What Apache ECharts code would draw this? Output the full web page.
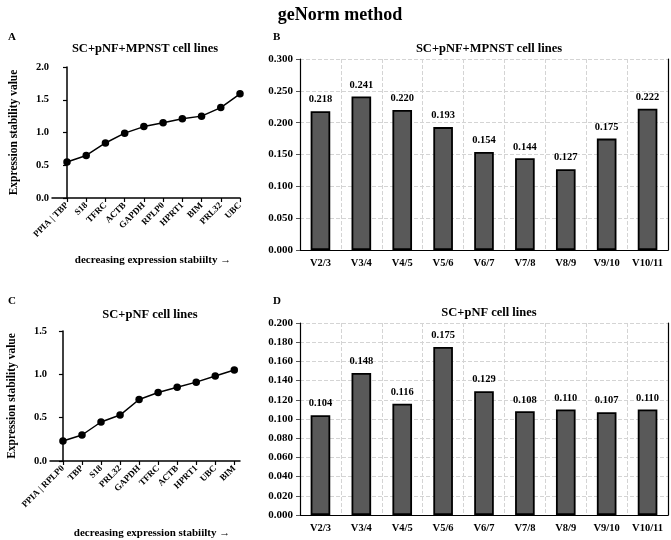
<!DOCTYPE html>
<html>
<head>
<meta charset="utf-8">
<script src="https://cdn.jsdelivr.net/npm/echarts@6/dist/echarts.min.js"></script>
<style>
  html, body { margin: 0; padding: 0; background: #fff; }
  #chart { width: 671px; height: 540px; }
</style>
</head>
<body>
<div id="chart"></div>
<script>
// genes ordered by decreasing expression stability
const genesA = ["PPIA | TBP", "S18", "TFRC", "ACTB", "GAPDH", "RPLP0", "HPRT1", "BIM", "PRL32", "UBC"];
const stabilityA = [0.55, 0.65, 0.84, 0.99, 1.09, 1.15, 1.21, 1.25, 1.38, 1.59];

const genesC = ["PPIA | RPLP0", "TBP", "S18", "PRL32", "GAPDH", "TFRC", "ACTB", "HPRT1", "UBC", "BIM"];
const stabilityC = [0.23, 0.30, 0.45, 0.53, 0.71, 0.79, 0.85, 0.91, 0.98, 1.05];

// pairwise variation
const pairs = ["V2/3", "V3/4", "V4/5", "V5/6", "V6/7", "V7/8", "V8/9", "V9/10", "V10/11"];
const variationB = [0.218, 0.241, 0.220, 0.193, 0.154, 0.144, 0.127, 0.175, 0.222];
const variationD = [0.104, 0.148, 0.116, 0.175, 0.129, 0.108, 0.110, 0.107, 0.110];

const FONT = "Liberation Serif";
const chart = echarts.init(document.getElementById("chart"));

const boldText = (size) => ({ fontFamily: FONT, fontWeight: "bold", fontSize: size, color: "#000" });
const idx = (arr) => arr.map((_, i) => i);

function lineX(gridIndex, genes, min, max, gap) {
  return {
    type: "value", gridIndex: gridIndex, min: min, max: max,
    axisLine: { lineStyle: { color: "#000", width: 1.5 } },
    axisTick: { customValues: idx(genes), length: 4, lineStyle: { color: "#000", width: 1.2 } },
    axisLabel: {
      customValues: idx(genes), rotate: 45, margin: 6, ...boldText(9),
      formatter: (v) => genes[Math.round(v)] || ""
    },
    splitLine: { show: false },
    name: "decreasing expression stabiilty \u2192",
    nameLocation: "middle", nameGap: gap,
    nameTextStyle: { ...boldText(11), padding: [0, 0, 0, 14] }
  };
}

function lineY(gridIndex, max) {
  return {
    type: "value", gridIndex: gridIndex, min: 0, max: max, interval: 0.5,
    axisLine: { show: true, lineStyle: { color: "#000", width: 1.5 } },
    axisTick: { show: true, length: 4, lineStyle: { color: "#000", width: 1.2 } },
    axisLabel: { ...boldText(10.5), margin: 3, formatter: (v) => v.toFixed(1) },
    splitLine: { show: false },
    name: "Expression stability value",
    nameLocation: "middle", nameGap: 32, nameRotate: 90,
    nameTextStyle: boldText(11.5)
  };
}

function barX(gridIndex) {
  return {
    type: "category", gridIndex: gridIndex, data: pairs,
    axisLine: { lineStyle: { color: "#000", width: 1.2 } },
    axisTick: { length: 4, lineStyle: { color: "#555" } },
    axisLabel: { ...boldText(10.5), margin: 8 },
    splitLine: { show: true, lineStyle: { color: "#d4d4d4", type: "dashed", width: 1 } }
  };
}

function barY(gridIndex, max, step) {
  return {
    type: "value", gridIndex: gridIndex, min: 0, max: max, interval: step,
    axisLine: { show: true, lineStyle: { color: "#000", width: 1.2 } },
    axisTick: { show: true, length: 4, lineStyle: { color: "#555" } },
    axisLabel: { ...boldText(11), margin: 7, formatter: (v) => v.toFixed(3) },
    splitLine: { show: true, lineStyle: { color: "#d4d4d4", type: "dashed", width: 1 } }
  };
}

function rightBorder(gridIndex) {
  return {
    type: "value", gridIndex: gridIndex, position: "right",
    axisLine: { show: true, lineStyle: { color: "#000", width: 1.2 } },
    axisTick: { show: false }, axisLabel: { show: false }, splitLine: { show: false }
  };
}

function lineSeries(axis, values) {
  return {
    type: "line", xAxisIndex: axis, yAxisIndex: axis,
    data: values.map((v, i) => [i, v]),
    symbol: "circle", symbolSize: 7.5,
    lineStyle: { color: "#000", width: 1.5 },
    itemStyle: { color: "#000" },
    animation: false
  };
}

function barSeries(xi, yi, values) {
  return {
    type: "bar", xAxisIndex: xi, yAxisIndex: yi, data: values,
    barWidth: "48%",
    itemStyle: { color: "#595959", borderColor: "#000", borderWidth: 1.8 },
    label: { show: true, position: "top", distance: 6, ...boldText(10.5), formatter: (p) => p.value.toFixed(3) },
    animation: false
  };
}

const panelTitle = (text, x, y) => ({
  text: text, left: x, top: y, textAlign: "center",
  textStyle: boldText(12.5)
});
const letter = (text, x, y) => ({ text: text, left: x, top: y, textStyle: boldText(11) });

const option = {
  backgroundColor: "#fff",
  title: [
    { text: "geNorm method", left: 335, top: 1, textAlign: "center", textStyle: boldText(18) },
    letter("A", 3, 27), panelTitle("SC+pNF+MPNST cell lines", 140, 37),
    letter("B", 268, 27), panelTitle("SC+pNF+MPNST cell lines", 484, 37),
    letter("C", 3, 291), panelTitle("SC+pNF cell lines", 145, 303),
    letter("D", 268, 291), panelTitle("SC+pNF cell lines", 484, 301)
  ],
  grid: [
    { left: 52, top: 67, width: 188, height: 131 },
    { left: 300, top: 59, width: 368, height: 191 },
    { left: 50, top: 331, width: 190, height: 131 },
    { left: 300, top: 323, width: 368, height: 192 }
  ],
  xAxis: [
    lineX(0, genesA, -0.78, 9, 57),
    barX(1),
    lineX(2, genesC, -0.68, 9.3, 67),
    barX(3)
  ],
  yAxis: [
    lineY(0, 2.0),
    barY(1, 0.3, 0.05),
    lineY(2, 1.5),
    barY(3, 0.2, 0.02),
    rightBorder(1),
    rightBorder(3)
  ],
  series: [
    lineSeries(0, stabilityA),
    barSeries(1, 1, variationB),
    lineSeries(2, stabilityC),
    barSeries(3, 3, variationD)
  ]
};

chart.setOption(option);
</script>
</body>
</html>
